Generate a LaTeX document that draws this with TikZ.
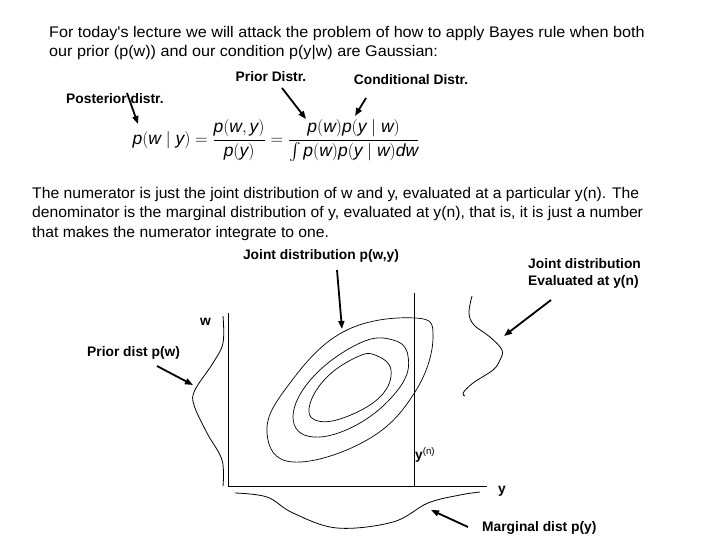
\documentclass[tikz,border=0pt]{standalone}
\usepackage{amsmath}
\usepackage{fontspec}
\setmainfont{Liberation Sans}
\newfontfamily\introfont[FakeStretch=1.05]{Liberation Sans}
\newfontfamily\parafont[FakeStretch=1.02]{Liberation Sans}
\usepackage{tikz}
\usetikzlibrary{arrows.meta, positioning, calc}
\tikzset{
  introtext/.style={font=\introfont\fontsize{15.4}{19}\selectfont, anchor=base west, inner sep=0pt},
  paratext/.style={font=\parafont\fontsize{15.4}{19}\selectfont, anchor=base west, inner sep=0pt},
  lbl/.style={font=\fontsize{13.8}{16}\selectfont\bfseries, inner sep=0pt},
  parrow/.style={-{Triangle[length=8pt, width=6pt]}, line width=1.8pt},
  thinline/.style={line width=0.8pt},
  contour/.style={line width=0.7pt, smooth cycle, tension=0.7},
}
\newcommand{\vv}[1]{\textit{#1}}

\begin{document}
\begin{tikzpicture}[x=1pt, y=-1pt]

  \useasboundingbox (0,0) rectangle (720,540);

  % intro text
  \node[introtext] (intro1) at (49,38)
    {For today's lecture we will attack the problem of how to apply Bayes rule when both};
  \node[introtext] (intro2) at (49,57)
    {our prior (p(w)) and our condition p(y|w) are Gaussian:};

  % Bayes rule
  \node[font=\fontsize{17.5}{20}\selectfont, inner sep=0pt] (bayes) at (276,141)
    {$\vv{p}(\vv{w}\mid\vv{y})=\dfrac{\vv{p}(\vv{w},\vv{y})}{\vv{p}(\vv{y})}
      =\dfrac{\vv{p}(\vv{w})\vv{p}(\vv{y}\mid\vv{w})}{\int\vv{p}(\vv{w})\vv{p}(\vv{y}\mid\vv{w})\vv{dw}}$};

  \node[lbl, anchor=west] (post) at (66,99) {Posterior distr.};
  \node[lbl] (prior) at (271,77) {Prior Distr.};
  \node[lbl] (cond) at (411,80) {Conditional Distr.};

  \coordinate (postA) at (127,93);  \coordinate (postB) at (138,124);
  \coordinate (priorA) at (282,88); \coordinate (priorB) at (306,119);
  \coordinate (condA) at (366,98);  \coordinate (condB) at (355,116);
  \draw[parrow] (postA) -- (postB);
  \draw[parrow] (priorA) -- (priorB);
  \draw[parrow] (condA) -- (condB);

  % explanation
  \node[paratext] (expl1) at (32,199)
    {The numerator is just the joint distribution of w and y, evaluated at a particular y(n). The};
  \node[paratext] (expl2) at (32,218)
    {denominator is the marginal distribution of y, evaluated at y(n), that is, it is just a number};
  \node[paratext] (expl3) at (32,237)
    {that makes the numerator integrate to one.};

  % axes
  \coordinate (wtop) at (228,313);
  \coordinate (orig) at (228,486);
  \coordinate (yend) at (487,486);
  \coordinate (yntop) at (414,293);
  \coordinate (ynbot) at (414,486);
  \draw[thinline] (wtop) -- (orig) -- (yend);
  \draw[thinline] (yntop) -- (ynbot);
  \node[lbl, anchor=east] (wlab) at (211,322) {w};
  \node[lbl, anchor=west] (ylab) at (498,491) {y};
  \node[anchor=west, inner sep=0pt] (ynlab) at (415,455)
    {\fontsize{13.8}{16}\selectfont\bfseries y\textsuperscript{\mdseries(n)}};

  % joint contours
  \draw[contour] plot coordinates {(415,318) (433,337) (415,392) (367,440) (293,462)
    (267,433) (287,387) (343,332)};
  \draw[contour] plot coordinates {(393,340) (408,356) (400,387) (360,423) (313,437)
    (293,417) (313,377) (360,343)};
  \draw[contour] plot coordinates {(375,355) (391,370) (380,397) (343,418) (315,420)
    (310,404) (327,377) (357,357)};

  % prior p(w)
  \draw[thinline] plot[smooth, tension=0.6] coordinates {(223,316) (223,343) (213,363)
    (195,390) (194,405) (207,433) (222,460) (223,486)};
  % marginal p(y)
  \draw[thinline] plot[smooth, tension=0.6] coordinates {(235,493) (267,497) (293,513)
    (337,528) (393,522) (428,503) (460,495) (480,492)};
  % joint at y(n)
  \draw[thinline] plot[smooth, tension=0.6] coordinates {(472,296) (469,313) (474,325)
    (490,337) (502,350) (500,360) (493,370) (473,383) (463,393) (465,396)};

  % labels of the plot
  \node[lbl] (jointlab) at (321,256) {Joint distribution p(w,y)};
  \node[lbl, anchor=west, align=left, font=\fontsize{13.8}{17}\selectfont\bfseries] (evallab) at (528,273)
    {Joint distribution\\Evaluated at y(n)};
  \node[lbl, anchor=west] (priorlab) at (87,353) {Prior dist p(w)};
  \node[lbl, anchor=west] (marglab) at (482,528) {Marginal dist p(y)};

  \coordinate (jointA) at (337,270);  \coordinate (jointB) at (342,329);
  \coordinate (evalA) at (551,300);   \coordinate (evalB) at (504,336);
  \coordinate (priorwA) at (157,366); \coordinate (priorwB) at (193,385);
  \coordinate (margA) at (468,527);   \coordinate (margB) at (431,510);
  \draw[parrow] (jointA) -- (jointB);
  \draw[parrow] (evalA) -- (evalB);
  \draw[parrow] (priorwA) -- (priorwB);
  \draw[parrow] (margA) -- (margB);

\end{tikzpicture}
\end{document}
